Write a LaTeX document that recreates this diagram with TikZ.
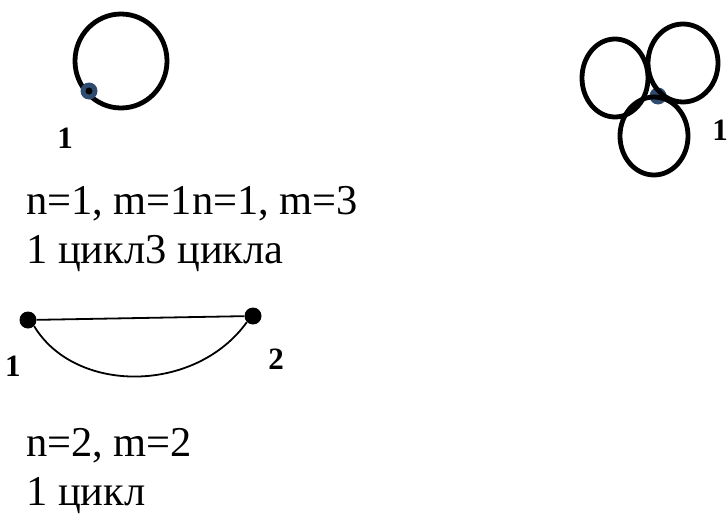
\documentclass[tikz,border=0pt]{standalone}
\usepackage{fontspec}
\setmainfont{Liberation Serif}
\usetikzlibrary{positioning}
\definecolor{rootblue}{HTML}{2F4B70}
\tikzset{
  loopline/.style={line width=4.8pt, draw=black},
  edgeline/.style={line width=1.8pt, draw=black},
  root/.style={
    circle, fill=rootblue, minimum size=17pt, inner sep=0pt
  },
  vtx/.style={
    circle, fill=black, minimum size=17pt, inner sep=0pt
  },
  numlabel/.style={font=\fontsize{31}{31}\selectfont\bfseries, inner sep=0pt},
  caption/.style={anchor=base west, inner sep=0pt,
    font=\fontsize{42.5}{48}\selectfont}
}
\begin{document}
\begin{tikzpicture}[x=1pt, y=-1pt]
  \useasboundingbox (0,0) rectangle (728,519);

  % One vertex with one loop
  \coordinate (ca) at (121,61);
  \draw[loopline] (ca) ellipse [x radius=46, y radius=47];
  \node[root] (a1) at (89,91) {};
  \fill (a1) circle (3.5pt);
  \node[numlabel] (la1) at (65,138) {1};

  % One vertex with three loops
  \node[root] (b1) at (658,96) {};
  \coordinate (cb1) at (615,78);
  \coordinate (cb2) at (683,63);
  \coordinate (cb3) at (654,136);
  \draw[loopline] (cb1) ellipse [x radius=33, y radius=39];
  \draw[loopline] (cb2) ellipse [x radius=35, y radius=39];
  \draw[loopline] (cb3) ellipse [x radius=34, y radius=39];
  \node[numlabel] (lb1) at (720,130) {1};

  % Captions
  \node[caption] (t1) at (26,214) {n=1, m=1n=1, m=3};
  \node[caption] (t2) at (26,263) {1 цикл3 цикла};

  % Two vertices, two edges
  \node[vtx] (c1) at (28,320) {};
  \node[vtx] (c2) at (253,316) {};
  \draw[edgeline] (c1) -- (c2);
  \draw[edgeline] (c1.south east) .. controls (75,394) and (195,394) .. (c2.south west);
  \node[numlabel] (lc1) at (13,366) {1};
  \node[numlabel] (lc2) at (276,359) {2};

  \node[caption] (t3) at (26,456) {n=2, m=2};
  \node[caption] (t4) at (26,505) {1 цикл};
\end{tikzpicture}
\end{document}
